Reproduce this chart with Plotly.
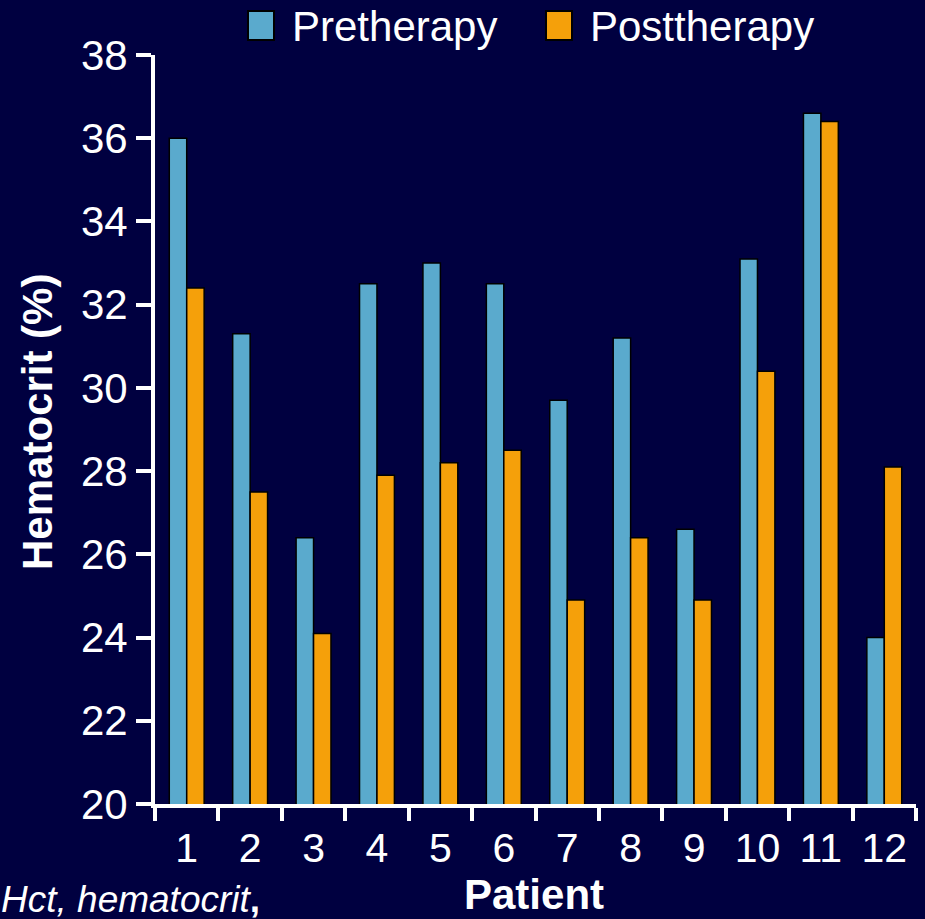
import plotly.graph_objects as go

# Hematocrit (%) per patient, before and after therapy
patients = ["1", "2", "3", "4", "5", "6", "7", "8", "9", "10", "11", "12"]
pretherapy = [36.0, 31.3, 26.4, 32.5, 33.0, 32.5, 29.7, 31.2, 26.6, 33.1, 36.6, 24.0]
posttherapy = [32.4, 27.5, 24.1, 27.9, 28.2, 28.5, 24.9, 26.4, 24.9, 30.4, 36.4, 28.1]
y_ticks = [20, 22, 24, 26, 28, 30, 32, 34, 36, 38]

W, H = 925, 919
L, R, T, B = 155, 9, 55, 115
PW, PH = W - L - R, H - T - B

BG = "#000040"
PRE_C = "#5AAACD"
POST_C = "#F5A00A"
FONT = "Arial, Liberation Sans, Helvetica, sans-serif"


def px_x(px):
    return (px - L) / PW


def px_y(py):
    return (H - B - py) / PH


fig = go.Figure()
fig.add_trace(go.Bar(x=patients, y=pretherapy, name="Pretherapy",
                     marker=dict(color=PRE_C, line=dict(color="black", width=1.5)),
                     showlegend=False))
fig.add_trace(go.Bar(x=patients, y=posttherapy, name="Posttherapy",
                     marker=dict(color=POST_C, line=dict(color="black", width=1.5)),
                     showlegend=False))

# legend drawn as swatches + labels above the plot
shapes = []
annotations = []
for (sx0, sx1, tx, label, col) in [(248, 274, 290, "Pretherapy", PRE_C),
                                   (546, 572, 588, "Posttherapy", POST_C)]:
    shapes.append(dict(type="rect", xref="paper", yref="paper",
                       x0=px_x(sx0), x1=px_x(sx1), y0=px_y(40), y1=px_y(11),
                       fillcolor=col, line=dict(color="black", width=2)))
    annotations.append(dict(xref="paper", yref="paper", x=px_x(tx), y=px_y(27),
                            xanchor="left", yanchor="middle", showarrow=False,
                            text=label, font=dict(size=42, color="white", family=FONT)))

annotations.append(dict(xref="paper", yref="paper", x=px_x(534), y=px_y(894),
                        xanchor="center", yanchor="middle", showarrow=False,
                        text="<b>Patient</b>", font=dict(size=42, color="white", family=FONT)))
annotations.append(dict(xref="paper", yref="paper", x=px_x(37), y=px_y(422),
                        xanchor="center", yanchor="middle", showarrow=False, textangle=-90,
                        text="<b>Hematocrit (%)</b>", font=dict(size=42, color="white", family=FONT)))
annotations.append(dict(xref="paper", yref="paper", x=px_x(-1), y=px_y(899),
                        xanchor="left", yanchor="middle", showarrow=False,
                        text="<i>Hct, hematocrit</i><b>,</b>",
                        font=dict(size=37, color="white", family=FONT)))

fig.update_layout(
    width=W, height=H,
    margin=dict(l=L, r=R, t=T, b=B, pad=0),
    paper_bgcolor=BG, plot_bgcolor=BG,
    barmode="group", bargap=0.45, bargroupgap=0,
    font=dict(family=FONT, color="white"),
    shapes=shapes, annotations=annotations,
    xaxis=dict(type="category", tickson="boundaries", ticks="outside", ticklen=13,
               tickwidth=4, tickcolor="white", showline=True, linecolor="white",
               linewidth=4, showgrid=False, zeroline=False, ticklabelstandoff=5,
               tickfont=dict(size=41, color="white", family=FONT)),
    yaxis=dict(range=[20, 38], tickvals=y_ticks, ticks="outside", ticklen=15,
               tickwidth=4, tickcolor="white", showline=True, linecolor="white",
               linewidth=4, showgrid=False, zeroline=False,
               tickfont=dict(size=42, color="white", family=FONT)),
)

fig.write_html("out.html")
